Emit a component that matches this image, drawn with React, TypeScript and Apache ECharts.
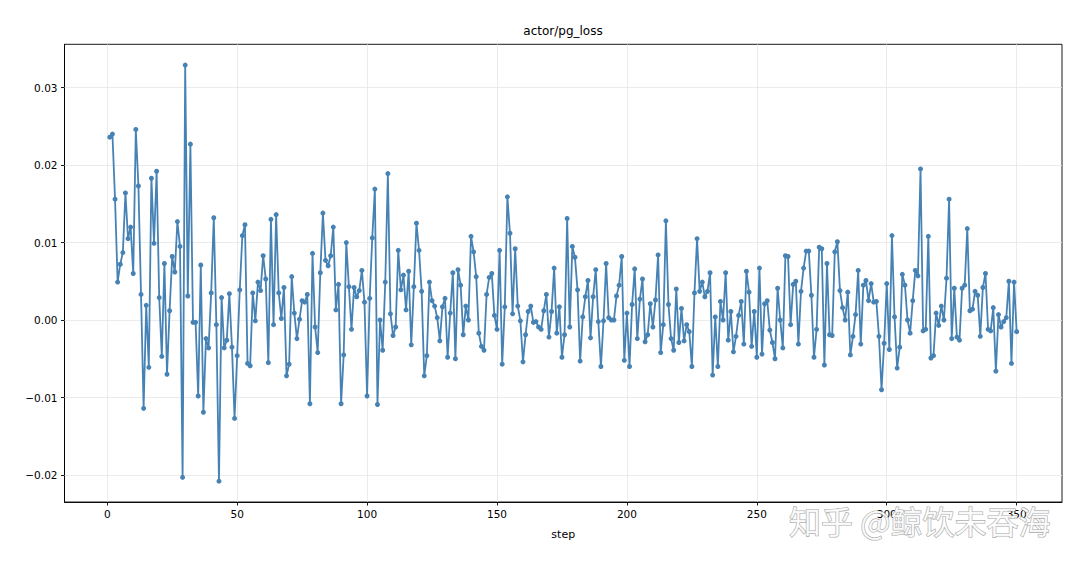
import React, { useEffect, useRef } from "react";
import * as echarts from "echarts";

const TITLE = "actor/pg_loss";
const X_NAME = "step";
const WATERMARK = "知乎 @鲸饮未吞海";

const xTicks = [0, 50, 100, 150, 200, 250, 300, 350];
const yTicks = [-0.02, -0.01, 0.0, 0.01, 0.02, 0.03];
const yTickLabels = ["−0.02", "−0.01", "0.00", "0.01", "0.02", "0.03"];

const pgLoss = [
  0.0236, 0.024, 0.0156, 0.0049, 0.0072, 0.0087, 0.0164, 0.0105, 0.012, 0.006,
  0.0246, 0.0173, 0.0033, -0.0114, 0.0019, -0.0061, 0.0183, 0.0099, 0.0192, 0.0029,
  -0.0047, 0.0073, -0.007, 0.0012, 0.0082, 0.0062, 0.0127, 0.0095, -0.0203, 0.0329,
  0.0031, 0.0227, -0.0003, -0.0003, -0.0098, 0.0071, -0.0119, -0.0024, -0.0036, 0.0035,
  0.0132, -0.0006, -0.0208, 0.0029, -0.0036, -0.0026, 0.0034, -0.0035, -0.0127, -0.0046,
  0.0039, 0.0109, 0.0123, -0.0056, -0.0059, 0.0035, -0.0001, 0.0049, 0.0038, 0.0083,
  0.0053, -0.0055, 0.013, -0.0006, 0.0136, 0.0035, 0.0002, 0.0042, -0.0072, -0.0057,
  0.0056, 0.0009, -0.0024, 0.0001, 0.0025, 0.0023, 0.0033, -0.0108, 0.0086, -0.0009,
  -0.0042, 0.0061, 0.0138, 0.0077, 0.007, 0.0083, 0.012, 0.0013, 0.0046, -0.0108,
  -0.0045, 0.01, 0.0043, -0.0012, 0.0042, 0.003, 0.0038, 0.0064, 0.0023, -0.0098,
  0.0028, 0.0106, 0.0169, -0.0109, 0.0, -0.0039, 0.0049, 0.0189, 0.0008, -0.002,
  -0.0009, 0.009, 0.0039, 0.0058, 0.0013, 0.0063, -0.0032, 0.0043, 0.0125, 0.009,
  0.0037, -0.0072, -0.0046, 0.0049, 0.0025, 0.0018, 0.0003, -0.0027, 0.0017, 0.0028,
  -0.0048, 0.0009, 0.0061, -0.005, 0.0065, 0.0045, -0.0019, 0.0018, 0.0, 0.0108,
  0.0088, 0.0056, -0.0017, -0.0034, -0.0039, 0.0033, 0.0055, 0.006, 0.0006, -0.0012,
  0.009, -0.0057, 0.0017, 0.0159, 0.0112, 0.0008, 0.0092, 0.0018, -0.0001, -0.0054,
  -0.0019, 0.0011, 0.0018, -0.0003, -0.0002, -0.0009, -0.0012, 0.0012, 0.0033, -0.0022,
  0.0011, 0.0067, -0.0017, 0.0017, -0.0048, -0.0019, 0.0131, -0.0009, 0.0095, 0.0081,
  0.0039, -0.0053, 0.0004, 0.003, 0.0051, -0.0023, 0.003, 0.0065, -0.0002, -0.006,
  -0.0001, 0.0073, 0.0003, 0.0, 0.0, 0.0031, 0.0045, 0.0082, -0.0052, 0.0009,
  -0.006, 0.002, 0.0066, -0.0024, 0.0027, 0.0053, -0.0028, -0.0019, 0.0021, -0.0009,
  0.0026, 0.0084, -0.0042, -0.0006, 0.0128, 0.002, -0.0024, -0.0039, 0.004, -0.0029,
  0.0015, -0.0027, -0.0006, -0.0015, -0.006, 0.0035, 0.0105, 0.0037, 0.0049, 0.003,
  0.0037, 0.0061, -0.0071, 0.0004, -0.006, 0.0024, 0.0, 0.0061, -0.0026, 0.0011,
  -0.0041, -0.0021, 0.0006, 0.0024, -0.0031, 0.0063, 0.0036, -0.0034, 0.0011, -0.0048,
  0.0067, -0.0044, 0.0021, 0.0025, -0.0013, -0.0029, -0.005, 0.0041, 0.0, -0.0036,
  0.0083, 0.0082, -0.0006, 0.0046, 0.005, -0.0031, 0.0037, 0.0067, 0.0089, 0.0089,
  0.0032, -0.0048, -0.0012, 0.0094, 0.0092, -0.0058, 0.0073, -0.0019, -0.002, 0.0088,
  0.0101, 0.0038, 0.0016, 0.0, 0.0036, -0.0045, -0.0021, 0.0007, 0.0064, -0.0031,
  0.0045, 0.0051, 0.0025, 0.0047, 0.0023, 0.0024, -0.0021, -0.009, -0.003, 0.0047,
  -0.0038, 0.0109, 0.0004, -0.0062, -0.0035, 0.0059, 0.0045, 0.0, -0.0017, 0.0025,
  0.0064, 0.0057, 0.0195, -0.0014, -0.0012, 0.0108, -0.0049, -0.0046, 0.0009, -0.0007,
  0.0018, 0.0, 0.0054, 0.0156, -0.0024, 0.0041, -0.0022, -0.0026, 0.0041, 0.0045,
  0.0118, 0.0012, 0.0014, 0.0037, 0.0032, -0.0021, 0.0042, 0.006, -0.0012, -0.0014,
  0.0016, -0.0066, 0.0007, -0.0009, -0.0002, 0.0003, 0.005, -0.0056, 0.0049, -0.0015,
];

const steps = pgLoss.map((_, i) => i + 1);

const FONT = "DejaVu Sans";

export default function App() {
  const ref = useRef<HTMLDivElement>(null);

  useEffect(() => {
    document.body.style.margin = "0";
    const chart = echarts.init(ref.current!, undefined, { renderer: "svg" });
    const n = steps.length;
    const xPad = (steps[n - 1] - steps[0]) * 0.05;
    const yMaxData = Math.max(...pgLoss);
    const yMinData = Math.min(...pgLoss);
    const yPad = (yMaxData - yMinData) * 0.05;

    chart.setOption({
      animation: false,
      backgroundColor: "#ffffff",
      textStyle: { fontFamily: FONT },
      grid: {
        left: 64.5,
        right: 18,
        top: 44.3,
        bottom: 63,
        show: true,
        borderColor: "#000",
        borderWidth: 0.9,
        backgroundColor: "transparent",
      },
      xAxis: {
        type: "value",
        min: steps[0] - xPad,
        max: steps[n - 1] + xPad,
        name: X_NAME,
        nameLocation: "middle",
        nameGap: 27,
        nameTextStyle: { color: "#000", fontSize: 11, fontFamily: FONT },
        axisLine: { show: true, onZero: false, lineStyle: { color: "#000", width: 0.9 } },
        axisTick: {
          show: true,
          length: 3.5,
          lineStyle: { color: "#000", width: 0.9 },
          customValues: xTicks,
        },
        axisLabel: {
          color: "#000",
          fontSize: 10.5,
          fontFamily: FONT,
          margin: 6,
          customValues: xTicks,
        },
        splitLine: { show: false },
      },
      yAxis: {
        type: "value",
        min: yMinData - yPad,
        max: yMaxData + yPad,
        axisLine: { show: true, onZero: false, lineStyle: { color: "#000", width: 0.9 } },
        axisTick: {
          show: true,
          length: 3.5,
          lineStyle: { color: "#000", width: 0.9 },
          customValues: yTicks,
        },
        axisLabel: {
          color: "#000",
          fontSize: 10.5,
          fontFamily: FONT,
          margin: 7,
          customValues: yTicks,
          formatter: (v: number) => {
            const idx = yTicks.findIndex((t) => Math.abs(t - v) < 1e-9);
            return idx >= 0 ? yTickLabels[idx] : "";
          },
        },
        splitLine: { show: false },
      },
      graphic: [
        {
          type: "text",
          x: 563,
          y: 25,
          style: {
            text: TITLE,
            fill: "#000",
            font: `12px "${FONT}"`,
            textAlign: "center",
          },
          z: 10,
        },
        {
          type: "text",
          x: 789,
          y: 504,
          style: {
            text: WATERMARK,
            fill: "rgba(255,255,255,0.85)",
            stroke: "rgba(140,140,140,0.75)",
            lineWidth: 1.2,
            font: `32px "Noto Sans CJK SC"`,
          },
          z: 100,
        },
      ],
      series: [
        {
          type: "line",
          data: [],
          silent: true,
          z: 1,
          markLine: {
            silent: true,
            symbol: "none",
            label: { show: false },
            lineStyle: { color: "#e6e6e6", type: "solid", width: 0.8 },
            data: [
              ...yTicks.map((v) => ({ yAxis: v })),
              ...xTicks.map((v) => ({ xAxis: v })),
            ],
            z: 1,
          },
        },
        {
          type: "line",
          data: steps.map((s, i) => [s, pgLoss[i]]),
          showSymbol: true,
          symbol: "circle",
          symbolSize: 5,
          itemStyle: { color: "#4682b4" },
          lineStyle: { color: "#4682b4", width: 1.8 },
          z: 3,
        },
      ],
    });

    return () => chart.dispose();
  }, []);

  return (
    <div
      ref={ref}
      style={{ position: "absolute", left: 0, top: 0, width: 1080, height: 565 }}
    />
  );
}
